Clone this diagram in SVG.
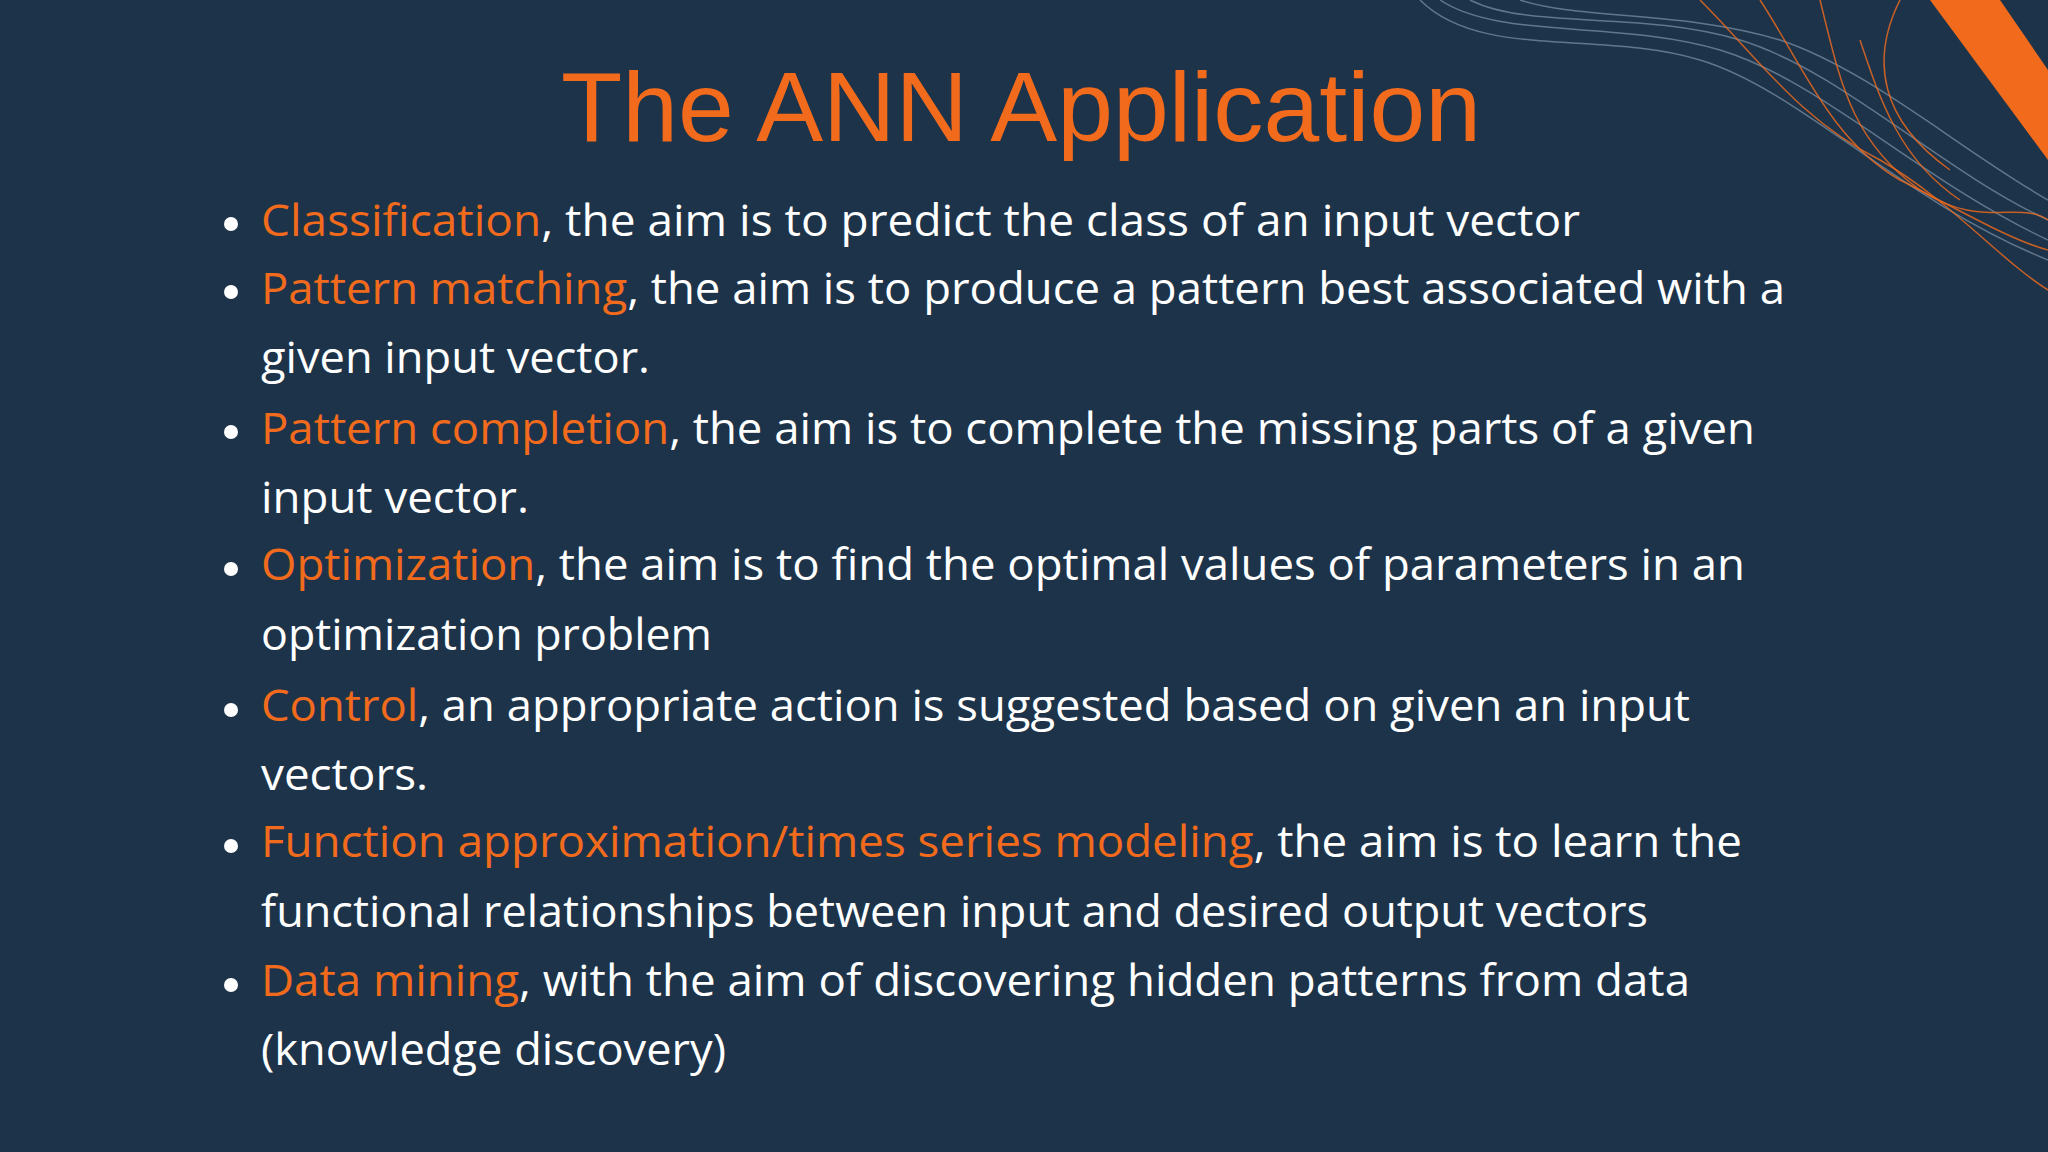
<svg xmlns="http://www.w3.org/2000/svg" width="2048" height="1152" viewBox="0 0 2048 1152">
<style>
.t{font-family:"Open Sans","Liberation Sans",sans-serif;font-size:43px;fill:#ffffff}
.o{fill:#f26b1d}
.w{fill:none;stroke:#8fa3b5;stroke-width:1.5;opacity:0.6}
.ow{fill:none;stroke:#f26b1d;stroke-width:1.5;opacity:0.8}
</style>
<rect width="2048" height="1152" fill="#1d3349"/>
<g id="decor">
<path class="w" d="M1420 0 C1480 60 1600 30 1700 60 C1800 90 1900 200 2048 260"/>
<path class="w" d="M1440 0 C1500 40 1620 20 1720 50 C1820 80 1920 180 2048 240"/>
<path class="w" d="M1470 0 C1530 30 1640 10 1740 40 C1840 70 1940 170 2048 220"/>
<path class="w" d="M1520 0 C1580 20 1680 10 1780 40 C1870 70 1960 150 2048 200"/>
<path class="ow" d="M1700 0 C1760 60 1800 120 1880 160 C1950 200 2000 260 2048 290"/>
<path class="ow" d="M1760 0 C1800 60 1830 140 1900 180 C1960 210 2010 240 2048 250"/>
<path class="ow" d="M1820 0 C1840 80 1850 140 1920 190 C1980 230 2020 200 2048 220"/>
<path class="ow" d="M1860 40 C1880 100 1900 160 1960 200"/>
<path class="ow" d="M1900 0 C1870 60 1880 120 1950 170"/>
<path d="M1930 0 L2000 0 L2048 70 L2048 160 Z" fill="#f26b1d"/>
</g>
<g id="title">
<text x="1021" y="141" text-anchor="middle" font-family="'Liberation Sans',Arial,sans-serif" font-size="98" fill="#f26b1d" textLength="920" lengthAdjust="spacingAndGlyphs">The ANN Application</text>
</g>
<g id="bullets" fill="#ffffff">
<circle cx="231" cy="224" r="7"/><circle cx="231" cy="292" r="7"/><circle cx="231" cy="432" r="7"/><circle cx="231" cy="569" r="7"/><circle cx="231" cy="710" r="7"/><circle cx="231" cy="846" r="7"/><circle cx="231" cy="985" r="7"/>
</g>
<g id="body">
<text class="t" x="261" y="236" textLength="1319" lengthAdjust="spacingAndGlyphs"><tspan class="o">Classification</tspan>, the aim is to predict the class of an input vector</text>
<text class="t" x="261" y="304" textLength="1524" lengthAdjust="spacingAndGlyphs"><tspan class="o">Pattern matching</tspan>, the aim is to produce a pattern best associated with a</text>
<text class="t" x="261" y="373" textLength="389" lengthAdjust="spacingAndGlyphs">given input vector.</text>
<text class="t" x="261" y="444" textLength="1494" lengthAdjust="spacingAndGlyphs"><tspan class="o">Pattern completion</tspan>, the aim is to complete the missing parts of a given</text>
<text class="t" x="261" y="513" textLength="268" lengthAdjust="spacingAndGlyphs">input vector.</text>
<text class="t" x="261" y="580" textLength="1484" lengthAdjust="spacingAndGlyphs"><tspan class="o">Optimization</tspan>, the aim is to find the optimal values of parameters in an</text>
<text class="t" x="261" y="650" textLength="451" lengthAdjust="spacingAndGlyphs">optimization problem</text>
<text class="t" x="261" y="721" textLength="1429" lengthAdjust="spacingAndGlyphs"><tspan class="o">Control</tspan>, an appropriate action is suggested based on given an input</text>
<text class="t" x="261" y="790" textLength="167" lengthAdjust="spacingAndGlyphs">vectors.</text>
<text class="t" x="261" y="857" textLength="1481" lengthAdjust="spacingAndGlyphs"><tspan class="o">Function approximation/times series modeling</tspan>, the aim is to learn the</text>
<text class="t" x="261" y="927" textLength="1387" lengthAdjust="spacingAndGlyphs">functional relationships between input and desired output vectors</text>
<text class="t" x="261" y="996" textLength="1429" lengthAdjust="spacingAndGlyphs"><tspan class="o">Data mining</tspan>, with the aim of discovering hidden patterns from data</text>
<text class="t" x="261" y="1065" textLength="465" lengthAdjust="spacingAndGlyphs">(knowledge discovery)</text>
</g>
</svg>
